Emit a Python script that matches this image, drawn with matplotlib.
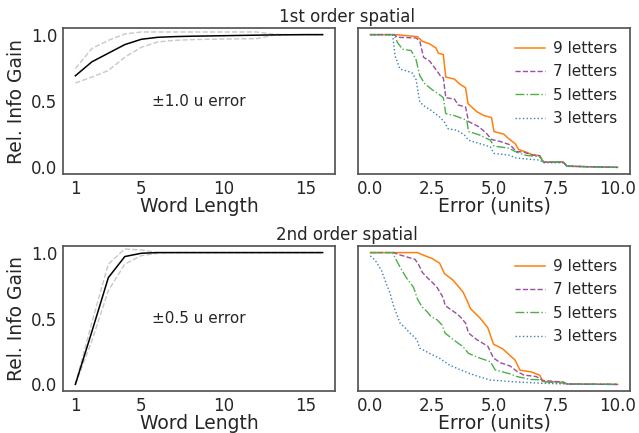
import matplotlib
matplotlib.use("Agg")
import matplotlib.pyplot as plt
import matplotlib.transforms as mtransforms
import numpy as np

plt.rcParams['font.family'] = ['DejaVu Sans']
plt.rcParams['text.color'] = '#262626'
plt.rcParams['axes.labelcolor'] = '#262626'
plt.rcParams['xtick.color'] = '#262626'
plt.rcParams['ytick.color'] = '#262626'

# ---------------- data ----------------
word_len = list(range(1, 17))

# 1st order spatial, +/-1.0 u error
top_mean = [0.69, 0.795, 0.86, 0.925, 0.965, 0.98, 0.985, 0.988, 0.99, 0.992,
            0.994, 0.996, 0.998, 0.999, 1.0, 1.0]
top_upper = [0.745, 0.895, 0.957, 1.005, 1.02, 1.02, 1.02, 1.02, 1.02, 1.02,
             1.02, 1.02, 1.003, 1.0, 1.0, 1.0]
top_lower = [0.636, 0.68, 0.73, 0.83, 0.905, 0.945, 0.957, 0.962, 0.965, 0.967,
             0.968, 0.97, 0.995, 1.0, 1.0, 1.0]

# 2nd order spatial, +/-0.5 u error
bot_mean = [0.0, 0.4, 0.81, 0.97, 0.995, 1.0, 1.0, 1.0, 1.0, 1.0,
            1.0, 1.0, 1.0, 1.0, 1.0, 1.0]
bot_upper = [0.0, 0.47, 0.913, 1.027, 1.02, 1.0, 1.0, 1.0, 1.0, 1.0,
             1.0, 1.0, 1.0, 1.0, 1.0, 1.0]
bot_lower = [0.0, 0.33, 0.711, 0.913, 0.977, 0.995, 1.0, 1.0, 1.0, 1.0,
             1.0, 1.0, 1.0, 1.0, 1.0, 1.0]

labels = ["9 letters", "7 letters", "5 letters", "3 letters"]

# top right (1st order) curves vs error
x9t = [0, 1.0, 1.9, 2.1, 2.4, 2.65, 2.75, 2.95, 3.05, 3.4, 3.6, 3.85, 3.95, 4.3, 4.6, 4.9, 5.0,
       5.4, 5.6, 5.85, 6.0, 6.3, 6.55, 6.85, 7.0, 7.8, 7.95, 8.6, 10]
y9t = [1.0, 1.0, 0.985, 0.95, 0.93, 0.90, 0.86, 0.85, 0.68, 0.665, 0.63, 0.60, 0.48, 0.42, 0.39,
       0.375, 0.27, 0.25, 0.215, 0.18, 0.135, 0.115, 0.095, 0.088, 0.04, 0.04, 0.008, 0.005, 0.0]
x7t = [0, 0.95, 1.1, 1.85, 2.0, 2.15, 2.4, 2.6, 2.85, 2.95, 3.05, 3.4, 3.55, 3.85, 3.97, 4.4,
       4.7, 4.9, 5.25, 5.65, 5.9, 6.2, 6.5, 6.85, 7.0, 7.8, 7.95, 8.8, 10]
y7t = [1.0, 1.0, 0.98, 0.975, 0.95, 0.83, 0.80, 0.75, 0.685, 0.675, 0.525, 0.515, 0.47, 0.455,
       0.345, 0.305, 0.255, 0.21, 0.195, 0.17, 0.12, 0.115, 0.095, 0.087, 0.04, 0.04, 0.01, 0.005, 0.0]
x5t = [0, 0.95, 1.1, 1.3, 1.65, 1.85, 2.0, 2.2, 2.5, 2.85, 2.95, 3.05, 3.4, 3.9, 3.97, 4.4,
       4.85, 5.0, 5.6, 5.9, 6.3, 6.85, 7.0, 7.8, 7.95, 8.8, 10]
y5t = [1.0, 1.0, 0.94, 0.89, 0.88, 0.81, 0.69, 0.63, 0.585, 0.54, 0.525, 0.405, 0.39, 0.355,
       0.27, 0.245, 0.205, 0.16, 0.145, 0.115, 0.09, 0.08, 0.04, 0.04, 0.01, 0.005, 0.0]
x3t = [0, 0.9, 1.0, 1.2, 1.5, 1.7, 1.85, 2.0, 2.2, 2.45, 2.8, 3.0, 3.15, 3.5, 3.8, 3.97, 4.4,
       4.85, 5.0, 5.6, 5.9, 6.5, 6.85, 7.0, 7.8, 7.95, 8.8, 10]
y3t = [1.0, 1.0, 0.84, 0.74, 0.725, 0.71, 0.66, 0.49, 0.46, 0.43, 0.38, 0.34, 0.29, 0.28,
       0.245, 0.205, 0.18, 0.155, 0.105, 0.093, 0.07, 0.06, 0.055, 0.035, 0.035, 0.01, 0.005, 0.0]

# bottom right (2nd order) curves vs error
x9b = [0, 1.9, 2.15, 2.5, 2.8, 3.0, 3.35, 3.75, 3.9, 4.05, 4.45, 4.75, 4.98, 5.35, 5.85, 6.05,
       6.5, 6.85, 6.97, 7.8, 7.95, 10]
y9b = [1.0, 1.0, 0.98, 0.955, 0.92, 0.84, 0.79, 0.70, 0.64, 0.575, 0.50, 0.43, 0.305, 0.27,
       0.185, 0.108, 0.095, 0.07, 0.022, 0.017, 0.003, 0.0]
x7b = [0, 0.95, 1.15, 1.6, 1.8, 1.95, 2.1, 2.3, 2.5, 2.7, 2.9, 2.97, 3.02, 3.2, 3.5, 3.65,
       3.85, 3.97, 4.3, 4.75, 4.98, 5.25, 5.65, 5.92, 6.2, 6.7, 6.98, 7.8, 7.95, 10]
y7b = [1.0, 1.0, 0.985, 0.96, 0.95, 0.91, 0.85, 0.81, 0.775, 0.735, 0.673, 0.64, 0.6, 0.575,
       0.535, 0.51, 0.465, 0.39, 0.34, 0.29, 0.2, 0.165, 0.14, 0.1, 0.071, 0.06, 0.03, 0.017, 0.003, 0.0]
x5b = [0, 0.9, 1.0, 1.2, 1.45, 1.75, 1.9, 2.08, 2.3, 2.45, 2.7, 2.9, 3.02, 3.35, 3.75, 3.97,
       4.45, 4.85, 5.05, 5.65, 5.92, 6.45, 6.87, 7.0, 7.8, 8.0, 10]
y5b = [1.0, 1.0, 0.96, 0.89, 0.81, 0.735, 0.65, 0.59, 0.55, 0.515, 0.49, 0.45, 0.39, 0.34,
       0.285, 0.235, 0.198, 0.173, 0.11, 0.08, 0.06, 0.038, 0.035, 0.02, 0.01, 0.003, 0.0]
x3b = [0, 0.2, 0.45, 0.65, 0.8, 0.93, 1.2, 1.35, 1.6, 1.88, 2.0, 2.4, 2.8, 3.2, 3.6, 4.0, 4.4,
       4.85, 5.25, 5.8, 6.5, 7.0, 8.0, 10]
y3b = [0.975, 0.94, 0.865, 0.76, 0.69, 0.6, 0.465, 0.44, 0.39, 0.34, 0.275, 0.235, 0.198,
       0.147, 0.114, 0.084, 0.058, 0.033, 0.028, 0.02, 0.013, 0.008, 0.003, 0.0]

colors = ['#ff7f0e', '#984ea3', '#4daf4a', '#377eb8']
styles = ['-', '--', '-.', ':']

# ---------------- figure ----------------
W, H = 639, 433
fig = plt.figure(figsize=(W / 100, H / 100), dpi=100)


def rect(l, t, r, b):
    return [l / W, 1 - b / H, (r - l) / W, (b - t) / H]


ax_tl = fig.add_axes(rect(63, 28, 335, 174))
ax_tr = fig.add_axes(rect(358, 28, 630, 174))
ax_bl = fig.add_axes(rect(63, 246, 335, 391))
ax_br = fig.add_axes(rect(358, 246, 630, 391))

tick_fs = 12
label_fs = 13.5


def style_axes(ax):
    for s in ax.spines.values():
        s.set_color('#555555')
        s.set_linewidth(1.25)
    ax.tick_params(length=0, labelsize=tick_fs, pad=4.0)


def left_panel(ax, mean, upper, lower, note):
    ax.plot(word_len, upper, color='#c8c8c8', lw=1.0, ls='--')
    ax.plot(word_len, lower, color='#c8c8c8', lw=1.0, ls='--')
    ax.plot(word_len, mean, color='black', lw=1.1)
    ax.set_xlim(0.25, 16.75)
    ax.set_ylim(-0.05, 1.05)
    ax.set_xticks([1, 5, 10, 15])
    ax.set_yticks([0.0, 0.5, 1.0])
    ax.set_xlabel("Word Length", fontsize=label_fs, labelpad=-0.5)
    ax.set_ylabel("Rel. Info Gain", fontsize=label_fs, labelpad=4)
    trans = mtransforms.blended_transform_factory(ax.transAxes, ax.transData)
    ax.text(0.326, 0.5, note, transform=trans, fontsize=11, va='center', ha='left')
    style_axes(ax)


def right_panel(ax, xs, ys):
    for x, y, c, s, lab in zip(xs, ys, colors, styles, labels):
        ax.plot(x, y, color=c, ls=s, lw=1.1 if s == '-' else 1.0, label=lab)
    ax.set_xlim(-0.5, 10.5)
    ax.set_ylim(-0.05, 1.05)
    ax.set_xticks([0.0, 2.5, 5.0, 7.5, 10.0])
    ax.set_xticklabels(["0.0", "2.5", "5.0", "7.5", "10.0"])
    ax.set_yticks([])
    ax.set_xlabel("Error (units)", fontsize=label_fs, labelpad=-0.5)
    ax.legend(loc='upper right', frameon=False, fontsize=11, handlelength=2.0,
              labelspacing=0.55, borderaxespad=0.45, handletextpad=0.5)
    style_axes(ax)


left_panel(ax_tl, top_mean, top_upper, top_lower, "\u00b11.0 u error")
left_panel(ax_bl, bot_mean, bot_upper, bot_lower, "\u00b10.5 u error")
right_panel(ax_tr, [x9t, x7t, x5t, x3t], [y9t, y7t, y5t, y3t])
right_panel(ax_br, [x9b, x7b, x5b, x3b], [y9b, y7b, y5b, y3b])

cx = 346.5 / W
fig.text(cx, 1 - 17 / H, "1st order spatial", fontsize=12, ha='center', va='center')
fig.text(cx, 1 - 235 / H, "2nd order spatial", fontsize=12, ha='center', va='center')

fig.savefig("out.png", dpi=100)
